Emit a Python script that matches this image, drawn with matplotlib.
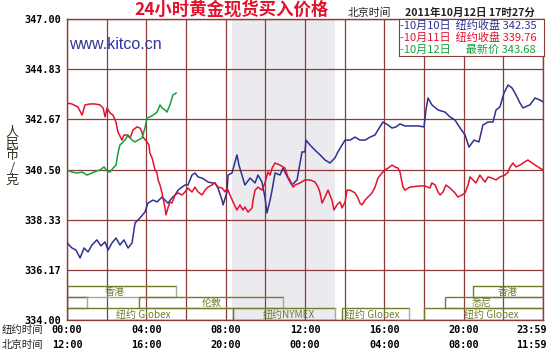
import numpy as np
import matplotlib
matplotlib.use("Agg")
import matplotlib.pyplot as plt
import matplotlib.transforms as mtransforms

plt.rcParams['font.family'] = ['Noto Sans CJK SC', 'DejaVu Sans']

# ── data (NY hours 0-24, price in RMB/g) ─────────────────────────────────────
blue_h = [0.00, 0.25, 0.45, 0.66, 0.86, 1.06, 1.26, 1.51, 1.71, 1.92, 2.07, 2.27,
          2.47, 2.67, 2.87, 3.08, 3.28, 3.43, 3.68, 3.93, 4.08, 4.34, 4.54, 4.79,
          4.94, 5.09, 5.29, 5.45, 5.60, 5.80, 5.95, 6.10, 6.30, 6.45, 6.61, 6.81,
          6.96, 7.11, 7.31, 7.46, 7.61, 7.82, 7.87, 8.07, 8.12, 8.32, 8.47, 8.57,
          8.67, 8.97, 9.23, 9.48, 9.63, 9.83, 9.98, 10.08, 10.24, 10.34, 10.49,
          10.74, 10.89, 11.14, 11.34, 11.60, 11.75, 11.85, 12.00, 12.05, 12.25,
          12.50, 12.76, 13.01, 13.26, 13.51, 13.66, 13.87, 14.02, 14.27, 14.52,
          14.77, 15.03, 15.28, 15.53, 15.68, 15.93, 16.19, 16.39, 16.59, 16.79,
          17.04, 17.29, 17.70, 18.00, 18.10, 18.20, 18.40, 18.71, 19.06, 19.31,
          19.56, 19.82, 20.07, 20.27, 20.52, 20.77, 20.97, 21.23, 21.48, 21.63,
          21.83, 22.03, 22.24, 22.44, 22.64, 22.84, 22.99, 23.34, 23.60, 23.85, 24.00]
blue_p = [337.33, 337.11, 337.02, 336.68, 337.11, 336.94, 337.24, 337.46, 337.20,
          337.37, 337.02, 337.33, 337.54, 337.24, 337.46, 337.11, 337.33, 338.19,
          338.41, 338.66, 339.05, 339.18, 339.10, 339.31, 339.18, 339.05, 339.27,
          339.40, 339.61, 339.74, 339.83, 339.83, 340.26, 340.35, 340.18, 340.13,
          340.05, 339.96, 339.92, 339.92, 339.70, 339.18, 338.97, 339.53, 340.26,
          340.35, 340.82, 341.13, 340.69, 339.83, 340.13, 339.92, 340.26, 339.96,
          339.31, 338.62, 339.18, 339.61, 340.35, 340.26, 340.56, 340.13, 339.83,
          340.05, 340.78, 341.26, 341.26, 341.77, 341.56, 341.34, 341.13, 340.91,
          340.78, 341.00, 341.26, 341.56, 341.77, 341.77, 341.90, 341.77, 341.77,
          341.90, 341.99, 342.21, 342.55, 342.42, 342.29, 342.34, 342.47, 342.38,
          342.38, 342.38, 342.34, 343.07, 343.59, 343.29, 343.07, 342.98, 342.77,
          342.64, 342.29, 341.99, 341.47, 341.77, 341.69, 342.42, 342.55, 342.55,
          343.07, 343.20, 343.80, 344.15, 344.02, 343.72, 343.37, 343.16, 343.29,
          343.59, 343.50, 343.42]

red_h = [0.00, 0.25, 0.55, 0.76, 0.91, 1.16, 1.41, 1.66, 1.82, 1.92, 2.02, 2.17,
         2.32, 2.47, 2.57, 2.77, 2.87, 3.03, 3.18, 3.33, 3.53, 3.68, 3.78, 3.83,
         4.03, 4.13, 4.18, 4.29, 4.44, 4.54, 4.59, 4.69, 4.79, 4.84, 4.94, 4.99,
         5.09, 5.19, 5.29, 5.45, 5.60, 5.80, 5.95, 6.10, 6.30, 6.45, 6.61, 6.81,
         6.96, 7.11, 7.31, 7.46, 7.61, 7.82, 7.97, 8.07, 8.22, 8.37, 8.57, 8.72,
         8.87, 8.97, 9.13, 9.33, 9.38, 9.48, 9.63, 9.83, 9.98, 10.13, 10.24, 10.34,
         10.49, 10.74, 10.89, 10.99, 11.14, 11.24, 11.40, 11.50, 11.75, 12.00,
         12.25, 12.50, 12.66, 12.76, 12.86, 13.01, 13.16, 13.26, 13.36, 13.46,
         13.61, 13.77, 13.87, 14.02, 14.12, 14.27, 14.52, 14.67, 14.77, 14.87,
         15.03, 15.18, 15.38, 15.53, 15.68, 15.88, 16.03, 16.19, 16.39, 16.54,
         16.69, 16.79, 16.94, 17.04, 17.29, 17.80, 18.05, 18.30, 18.40, 18.56,
         18.71, 18.81, 18.96, 19.11, 19.31, 19.56, 19.71, 19.92, 20.07, 20.22,
         20.32, 20.47, 20.62, 20.82, 20.92, 21.08, 21.23, 21.43, 21.63, 21.83,
         22.08, 22.24, 22.34, 22.49, 22.64, 22.84, 22.99, 23.24, 23.45, 23.75, 24.00]
red_p = [343.37, 343.33, 343.20, 342.85, 343.29, 343.33, 343.33, 343.29, 343.16,
         342.77, 343.16, 342.94, 342.85, 342.55, 342.12, 341.77, 341.99, 341.99,
         341.86, 342.21, 342.34, 342.29, 342.12, 341.90, 341.69, 341.56, 341.21,
         341.00, 340.48, 340.35, 340.05, 339.83, 339.49, 339.27, 338.84, 338.54,
         338.84, 339.10, 339.05, 339.40, 339.49, 339.40, 339.53, 339.70, 339.53,
         339.74, 339.53, 339.40, 339.61, 339.74, 339.83, 339.92, 339.74, 339.70,
         339.53, 339.70, 339.40, 339.10, 338.75, 338.97, 338.75, 338.88, 338.66,
         338.84, 339.18, 339.61, 339.74, 339.61, 339.92, 340.39, 340.26, 340.56,
         340.78, 340.69, 340.61, 340.56, 340.18, 340.05, 339.74, 339.83, 339.92,
         340.05, 340.05, 339.96, 339.74, 339.49, 339.05, 339.31, 339.61, 339.40,
         339.18, 338.75, 338.97, 339.10, 338.84, 339.10, 339.61, 339.61, 339.49,
         339.27, 339.05, 338.97, 339.18, 339.31, 339.49, 339.74, 340.13, 340.35,
         340.48, 340.56, 340.69, 340.61, 340.56, 340.39, 339.74, 339.61, 339.74,
         339.79, 339.79, 339.70, 339.92, 339.83, 339.53, 339.40, 339.53, 339.83,
         339.70, 339.49, 339.31, 339.40, 339.49, 339.83, 340.18, 340.05, 339.92,
         340.26, 340.13, 339.96, 340.18, 340.13, 340.05, 340.18, 340.26, 340.39,
         340.61, 340.78, 340.61, 340.69, 340.78, 340.91, 340.78, 340.61, 340.48]

green_h = [0.00, 0.25, 0.50, 0.76, 1.01, 1.26, 1.51, 1.66, 1.87, 2.02, 2.17, 2.32,
           2.47, 2.57, 2.67, 2.77, 2.92, 3.08, 3.28, 3.43, 3.58, 3.78, 3.93, 4.03,
           4.18, 4.34, 4.54, 4.69, 4.79, 4.94, 5.04, 5.19, 5.34, 5.50]
green_p = [340.48, 340.39, 340.35, 340.39, 340.26, 340.35, 340.44, 340.48, 340.61,
           340.44, 340.39, 340.56, 340.69, 341.21, 341.56, 341.64, 341.77, 341.99,
           341.77, 341.69, 341.77, 341.86, 342.29, 342.72, 342.77, 342.85, 342.98,
           343.29, 343.16, 343.07, 342.98, 343.29, 343.72, 343.80]

y_ticks = [334.00, 336.17, 338.33, 340.50, 342.67, 344.83, 347.00]
x_ticks = [0, 4, 8, 12, 16, 20, 24]
ny_labels = ["00:00", "04:00", "08:00", "12:00", "16:00", "20:00", "23:59"]
bj_labels = ["12:00", "16:00", "20:00", "00:00", "04:00", "08:00", "11:59"]

legend_lines = ["-10月10日  纽约收盘 342.35",
                "-10月11日  纽约收盘 339.76",
                "-10月12日      最新价 343.68"]

# trading sessions: row (0 top .. 2 bottom), start, end, label, label pos
sess_row   = [0, 0, 1, 1, 1, 2, 2, 2, 2]
sess_start = [0.0, 20.47, 0.0, 3.63, 19.06, 0.0, 8.37, 13.87, 18.0]
sess_end   = [5.50, 24.0, 1.01, 10.89, 24.0, 8.37, 13.51, 17.24, 24.0]
sess_name  = ["香港", "香港", "", "伦敦", "悉尼", "纽约 Globex", "纽约NYMEX",
              "纽约 Globex", "纽约 Globex"]
sess_lab_x = [2.42, 22.2, 0, 7.31, 20.9, 3.83, 11.2, 15.4, 21.4]
row_edges  = [335.47, 334.99, 334.52, 334.00]

nymex_open, nymex_close = 8.33, 13.5

# ── colours ──────────────────────────────────────────────────────────────────
GRID  = "#8c3b3b"
NAVY  = "#2e3190"
RED   = "#e3122d"
GREEN = "#17a03c"
OLIVE = "#6f7d2c"

fig = plt.figure(figsize=(5.5, 3.49), dpi=100)
ax = fig.add_axes([67/550, 1-320/349, 476/550, 301/349])
ax.set_xlim(0, 24)
ax.set_ylim(334, 347)

ax.axvspan(nymex_open, nymex_close, color="#ebeaee", lw=0, zorder=0)
for h in range(0, 25, 2):
    ax.axvline(h, color=GRID, lw=0.9, zorder=1)
for p in y_ticks:
    ax.axhline(p, color=GRID, lw=0.9, zorder=1)
for s in ax.spines.values():
    s.set_color(GRID)
    s.set_linewidth(1.0)

# session boxes
for r, a, b, name, lx in zip(sess_row, sess_start, sess_end, sess_name, sess_lab_x):
    top, bot = row_edges[r], row_edges[r+1]
    ax.plot([a, a, b], [bot, top, top], color=OLIVE, lw=1.0, zorder=2,
            solid_joinstyle="miter")
    ax.plot([a, b, b], [bot, bot, top], color="#a8a8a0", lw=1.0, zorder=2)
    if name:
        ax.text(lx, (top+bot)/2 - 0.03, name, color=OLIVE, fontsize=7.2,
                ha="center", va="center", zorder=3)

ax.plot(blue_h, blue_p, color=NAVY, lw=1.1, zorder=4)
ax.plot(red_h, red_p, color=RED, lw=1.1, zorder=4)
ax.plot(green_h, green_p, color=GREEN, lw=1.1, zorder=4)

ax.set_xticks([])
ax.set_yticks(y_ticks)
ax.set_yticklabels([f"{v:.2f}" for v in y_ticks], family="DejaVu Sans Mono",
                   fontweight="bold", fontsize=7.3)
ax.tick_params(axis="y", length=0, pad=4)

# two rows of time labels
tr = mtransforms.blended_transform_factory(ax.transData, fig.transFigure)
for h, a, b in zip(x_ticks, ny_labels, bj_labels):
    ha = "center"
    xx = h
    if h == 24:
        ha, xx = "right", 24.2
    ax.text(xx, 1-330/349, a, transform=tr, ha=ha, va="center",
            family="DejaVu Sans Mono", fontweight="bold", fontsize=7.3)
    ax.text(xx, 1-345/349, b, transform=tr, ha=ha, va="center",
            family="DejaVu Sans Mono", fontweight="bold", fontsize=7.3)
fig.text(2/550, 1-330/349, "纽约时间", fontsize=7.5, va="center", color="#222222")
fig.text(2/550, 1-345/349, "北京时间", fontsize=7.5, va="center", color="#222222")

# y label stacked
fig.text(12/550, 1-156/349, "人\n民\n币\n/\n克", fontsize=9.5, ha="center",
         va="center", linespacing=0.9, color="#333322")

# title and header
fig.text(232/550, 1-10/349, "24小时黄金现货买入价格", color=RED, fontsize=12.5,
         ha="center", va="center", fontweight="bold")
fig.text(348/550, 1-13/349, "北京时间", fontsize=7.8, va="center", color="#222222")
fig.text(405/550, 1-13/349, "2011年10月12日 17时27分", fontsize=7.6,
         va="center", fontweight="bold", color="#222222")

ax.text(0.1, 345.9, "www.kitco.cn", family="Liberation Sans", fontsize=11.5,
        color="#2e3592", va="center", ha="left", zorder=3)

# legend box
leg = fig.add_axes([399/550, 1-56/349, 145/550, 37/349])
leg.set_xticks([]); leg.set_yticks([])
leg.set_facecolor("white")
for s in leg.spines.values():
    s.set_color(GRID)
for i, (txt, c) in enumerate(zip(legend_lines, [NAVY, RED, GREEN])):
    leg.text(0.01, 0.83 - i*0.33, txt, color=c, fontsize=8, va="center",
             ha="left", transform=leg.transAxes)

fig.savefig("out.png", dpi=100, facecolor="white")
